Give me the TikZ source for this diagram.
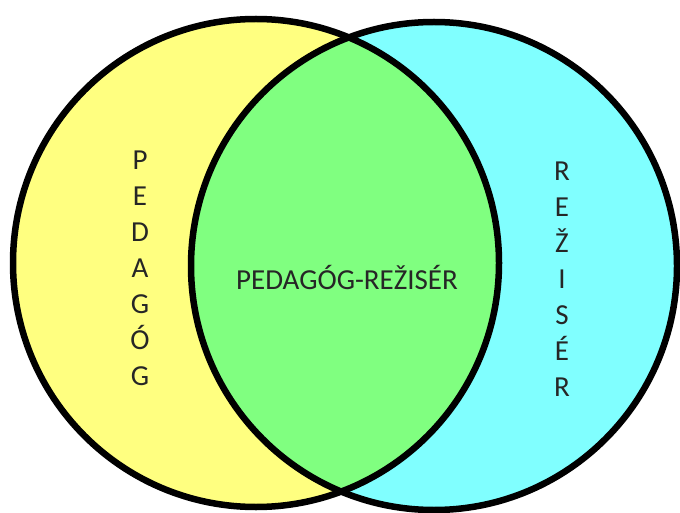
\documentclass[tikz,border=0pt]{standalone}
\usepackage{fontspec}
\setmainfont{Carlito}
\usetikzlibrary{shapes,positioning}

\definecolor{pedyellow}{HTML}{FFFF80}
\definecolor{rezcyan}{HTML}{80FFFF}
\definecolor{bothgreen}{HTML}{80FF80}

\begin{document}
\begin{tikzpicture}[
    x=1pt, y=-1pt,
    set/.style={ellipse, minimum width=486pt, minimum height=488pt, inner sep=0pt},
    rim/.style={draw=black, line width=6.5pt},
    word/.style={text=black!85, font=\fontsize{29}{36}\selectfont, align=center, inner sep=0pt}
]
\useasboundingbox (0,0) rectangle (680,513);

% the two sets
\node (ped) [set, fill=pedyellow] at (256,263) {};
\node (rez) [set, fill=rezcyan] at (434,266) {};

% overlap
\begin{scope}
    \clip (256,263) ellipse [x radius=243pt, y radius=244pt];
    \fill [bothgreen] (434,266) ellipse [x radius=243pt, y radius=244pt];
\end{scope}

% outlines
\node [set, rim] at (ped.center) {};
\node [set, rim] at (rez.center) {};

% labels
\node (pedtext) [word] at (140,268) {P\\E\\D\\A\\G\\Ó\\G};
\node (reztext) [word] at (562,279) {R\\E\\Ž\\I\\S\\É\\R};
\node (bothtext) [word] at (347,277) {PEDAGÓG-REŽISÉR};

\end{tikzpicture}
\end{document}
